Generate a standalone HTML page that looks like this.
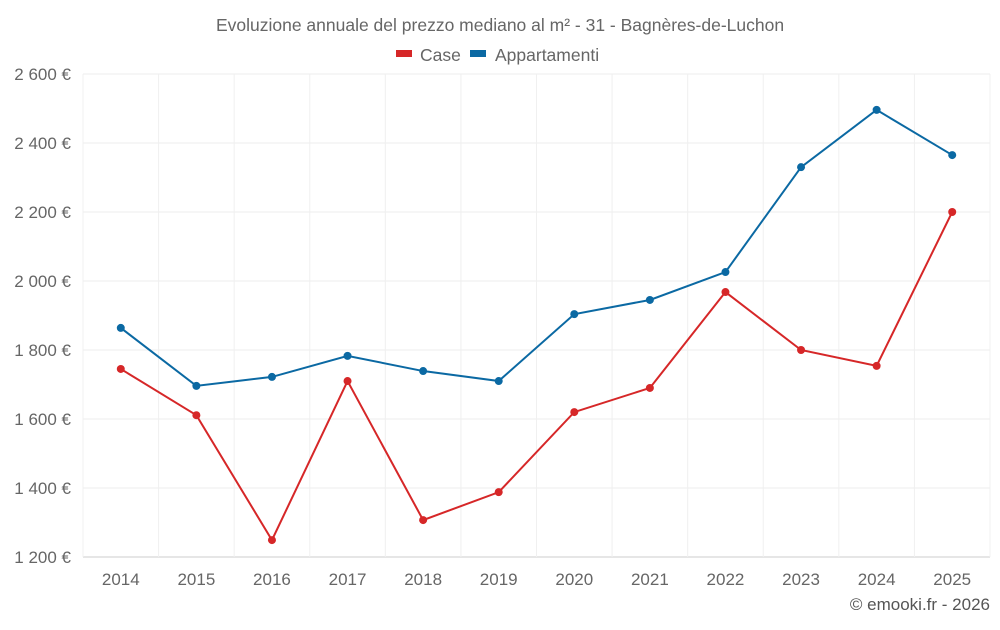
<!DOCTYPE html>
<html><head><meta charset="utf-8"><style>
body{margin:0;background:#fff;font-family:"Liberation Sans",sans-serif;}
svg text{font-family:"Liberation Sans",sans-serif;}
</style></head><body>
<svg id="chart" width="1000" height="625" xmlns="http://www.w3.org/2000/svg">
<text x="500" y="31" text-anchor="middle" font-size="17.5" fill="#666">Evoluzione annuale del prezzo mediano al m² - 31 - Bagnères-de-Luchon</text>
<g>
<g><rect x="396" y="50" width="16" height="7" fill="#d62728"/><text x="420" y="61" font-size="17.5" fill="#666">Case</text></g>
<g><rect x="470" y="50" width="16" height="7" fill="#0b69a3"/><text x="495" y="61" font-size="17.5" fill="#666">Appartamenti</text></g>
</g>
<g id="grid"></g>
<g id="axes"></g>
<g id="series"></g>
<text x="990" y="610" text-anchor="end" font-size="17" fill="#555">© emooki.fr - 2026</text>
</svg>
<script>
const years=[2014,2015,2016,2017,2018,2019,2020,2021,2022,2023,2024,2025];
const caseValues=[1745,1611,1249,1710,1307,1388,1620,1690,1968,1800,1754,2200];
const appValues=[1864,1696,1722,1783,1739,1710,1904,1945,2026,2330,2496,2365];
const yTicks=[1200,1400,1600,1800,2000,2200,2400,2600];
const yTickLabels=["1 200 €","1 400 €","1 600 €","1 800 €","2 000 €","2 200 €","2 400 €","2 600 €"];
const L=83,R=990,T=74,B=557,yMin=1200,yMax=2600;
const band=(R-L)/years.length;
const x=i=>L+band*(i+0.5);
const y=v=>B-(v-yMin)/(yMax-yMin)*(B-T);
const NS="http://www.w3.org/2000/svg";
function mk(tag,attrs,parent){const e=document.createElementNS(NS,tag);for(const k in attrs)e.setAttribute(k,attrs[k]);parent.appendChild(e);return e;}
const grid=document.getElementById('grid'),axes=document.getElementById('axes'),series=document.getElementById('series');
yTicks.forEach((t,i)=>{
  const l=mk('line',{x1:L,x2:R,y1:y(t),y2:y(t),stroke:i==0?'#ccc':'#ececec','stroke-width':1},grid);
  
  
  const tx=mk('text',{x:71,y:y(t)+6,'text-anchor':'end','font-size':17,fill:'#666'},axes);
  tx.textContent=yTickLabels[i];
  
  
});
for(let i=0;i<=years.length;i++){
  const l=mk('line',{x1:L+band*i,x2:L+band*i,y1:T,y2:B,stroke:'#f0f0f0','stroke-width':1},grid);
  
  
}
years.forEach((yr,i)=>{
  const tx=mk('text',{x:x(i),y:585,'text-anchor':'middle','font-size':17,fill:'#666'},axes);
  tx.textContent=yr;
  
  
});
function draw(vals,color,name){
  const p=mk('polyline',{points:vals.map((v,i)=>x(i)+','+y(v)).join(' '),fill:'none',stroke:color,'stroke-width':2},series);
  
  
  vals.forEach((v,i)=>{
    const c=mk('circle',{cx:x(i),cy:y(v),r:4,fill:color},series);
    
    
  });
}
draw(caseValues,'#d62728','case');
draw(appValues,'#0b69a3','appartamenti');
</script>
</body></html>
